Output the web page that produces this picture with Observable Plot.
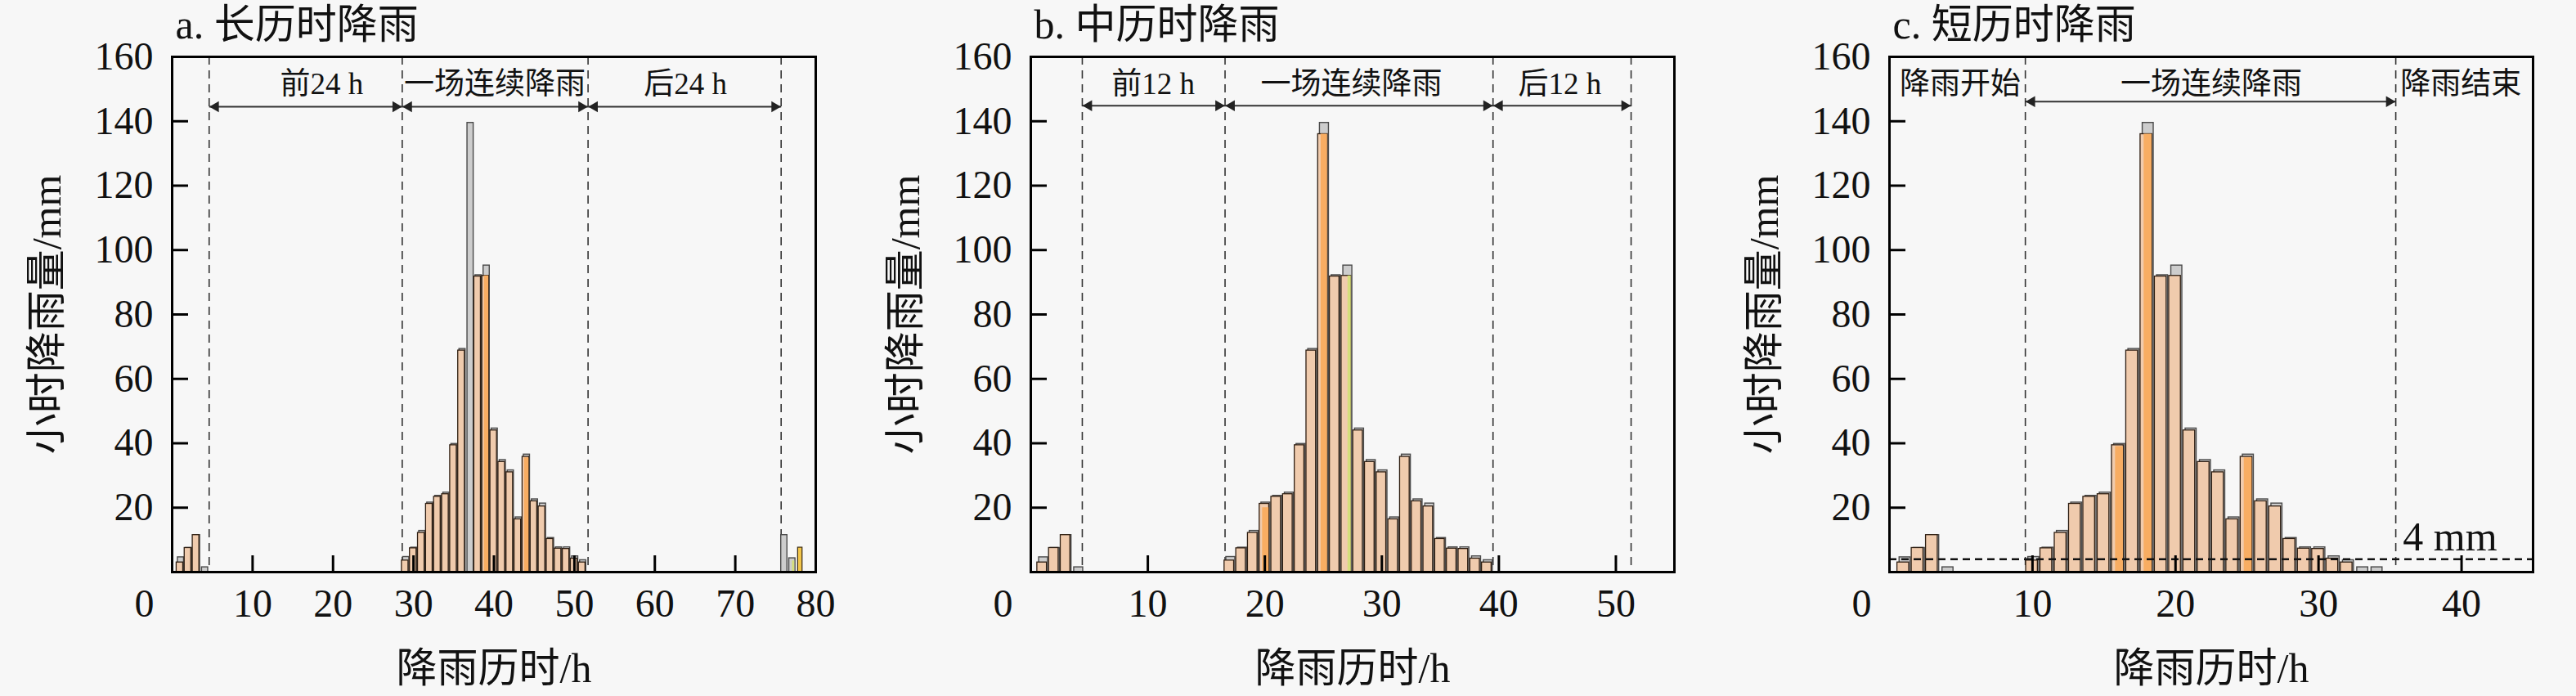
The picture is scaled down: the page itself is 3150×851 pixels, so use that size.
<!DOCTYPE html>
<html><head><meta charset="utf-8">
<script src="https://cdn.jsdelivr.net/npm/d3@7"></script>
<script src="https://cdn.jsdelivr.net/npm/@observablehq/plot@0.6"></script>
<style>
body{margin:0;background:#f7f7f7;}
#wrap{display:flex;width:3150px;height:851px;overflow:hidden;}
#wrap svg{flex:none;}
</style></head><body><div id="wrap"></div>
<script>
// ---- shared rainfall values (mm per hour) ----
const preHours = [1, 2, 3, 4];
const preGray  = [4.6, 7.5, 11.5, 1.5];
const prePeach = [3.0, 7.5, 11.5, 0];
const eventGray  = [4.7, 7.6, 12.8, 21.6, 23.7, 24.7, 39.8, 69.3, 139.5, 92.2, 95.2, 44.6, 34.8, 31.6, 17.0, 36.5, 22.6, 21.3, 10.6, 7.7, 7.7, 4.9, 3.7];
const eventPeach = [3.6, 7.4, 12.2, 21.2, 23.4, 24.2, 39.4, 68.8, 136.0, 91.8, 92.0, 44.0, 34.2, 31.0, 16.4, 35.8, 22.0, 20.4, 10.3, 7.3, 7.2, 4.2, 3.0];

// ---- panel descriptors ----
const titles = ["a. 长历时降雨", "b. 中历时降雨", "c. 短历时降雨"];
const xMax = [80, 55, 45];
const eventStartHour = [29, 17, 10];
const xTickLabelsA = [10, 20, 30, 40, 50, 60, 70, 80];
const xTickLabelsB = [10, 20, 30, 40, 50];
const xTickLabelsC = [10, 20, 30, 40];
const yTickLabels = [20, 40, 60, 80, 100, 120, 140, 160];
const yTickMarks = [20, 40, 60, 80, 100, 120, 140];

const dividersA = [4.6, 28.6, 51.7, 75.7];
const dividersB = [4.4, 16.6, 39.5, 51.3];
const dividersC = [9.5, 35.4];
const arrowLevel = [144.5, 144.8, 146.1];
const labelLevel = [151.4, 151.4, 151.4];
const labelsA = ["前24 h", "一场连续降雨", "后24 h"];
const labelXA = [18.6, 40.1, 63.8];
const labelsB = ["前12 h", "一场连续降雨", "后12 h"];
const labelXB = [10.45, 27.4, 45.2];
const labelsC = ["降雨开始", "一场连续降雨", "降雨结束"];
const labelXC = [4.94, 22.5, 39.95];

const orangeHoursA = [39, 44];      const orangeRainA = [92, 35.5];
const orangeHoursB = [25, 20];      const orangeRainB = [136, 20];
const orangeHoursC = [18, 16, 25];  const orangeRainC = [136, 39, 35.5];
const greenHoursA = [77];           const greenRainA = [3.5];
const greenHoursB = [27];           const greenRainB = [92];
const yellowHoursA = [78];          const yellowRainA = [7.6];
const postGrayHoursA = [76, 77];    const postGrayRainA = [11.5, 4.3];
const postGrayHoursC = [33, 34];    const postGrayRainC = [1.5, 1.5];
const hiddenPeachA = [37];

const thresholdC = [4];
const thresholdLabel = "4 mm";
const thresholdLabelX = [35.9];
const thresholdLabelY = [10.7];

const FONT = "'Liberation Serif', 'Noto Sans CJK SC', serif";
const zip = (h, v) => h.map((d, i) => ({h: d, v: v[i]}));

const W = 1050, H = 851, ML = 210, MR = 53, MT = 69, MB = 152;
const TICK = 20;

function panel(i, cfg) {
  const start = eventStartHour[i];
  const evHours = eventGray.map((_, k) => start + k);
  const grayRows = [...zip(preHours, preGray), ...zip(evHours, eventGray), ...zip(cfg.postGrayH || [], cfg.postGrayV || [])];
  const peachRows = [...zip(preHours, prePeach), ...zip(evHours, eventPeach)]
    .filter(d => d.v > 0 && !(cfg.hidden || []).includes(d.h));
  const orangeRows = zip(cfg.orangeH || [], cfg.orangeV || []);
  const greenRows = zip(cfg.greenH || [], cfg.greenV || []);
  const yellowRows = zip(cfg.yellowH || [], cfg.yellowV || []);
  const divs = cfg.dividers;
  const arrows = divs.slice(0, -1).map((s, k) => ({s, e: divs[k + 1]}));
  const labelRows = cfg.labels.map((t, k) => ({t, x: cfg.labelX[k]}));
  const xt = cfg.xTicks;
  const xMarks = xt.filter(d => d < xMax[i]);
  const fw = W - ML - MR, fh = H - MT - MB;

  const marks = [
    Plot.ruleX(divs, {stroke: "#333", strokeWidth: 1.6, strokeDasharray: "10,7"}),
    Plot.rect(grayRows, {x1: d => d.h - 0.3, x2: d => d.h + 0.47, y1: 0, y2: "v", fill: "#cdcdcd", stroke: "#4a4a4a", strokeWidth: 1.4}),
    Plot.rect(peachRows, {x1: d => d.h - 0.45, x2: d => d.h + 0.37, y1: 0, y2: "v", fill: "#f0cbad", stroke: "#2e1e12", strokeWidth: 1.3}),
    Plot.rect(orangeRows, {x1: d => d.h - 0.2, x2: d => d.h + 0.35, y1: 0, y2: "v", fill: "#f8ad62"}),
    Plot.rect(greenRows, {x1: d => d.h + 0.1, x2: d => d.h + 0.38, y1: 0, y2: "v", fill: "#d5de7c"}),
    Plot.rect(yellowRows, {x1: d => d.h - 0.2, x2: d => d.h + 0.35, y1: 0, y2: "v", fill: "#f3c64a", stroke: "#3a2a10", strokeWidth: 1.2}),
    Plot.link(arrows, {x1: "s", x2: "e", y1: arrowLevel[i], y2: arrowLevel[i], stroke: "#333", strokeWidth: 2}),
    Plot.dot(arrows, {x: "e", y: arrowLevel[i], symbol: "triangle", rotate: 90, r: 5, dx: -8, fill: "#222", stroke: "none"}),
    Plot.dot(arrows, {x: "s", y: arrowLevel[i], symbol: "triangle", rotate: -90, r: 5, dx: 8, fill: "#222", stroke: "none"}),
    Plot.text(labelRows, {x: "x", y: labelLevel[i], text: "t", fontSize: 37, fill: "#111", fontFamily: FONT}),
  ];
  if (cfg.threshold) {
    marks.push(Plot.ruleY(thresholdC, {stroke: "#111", strokeWidth: 2.5, strokeDasharray: "9,6"}));
    marks.push(Plot.text([thresholdLabel], {x: thresholdLabelX, y: thresholdLabelY, text: d => d, textAnchor: "start", fontSize: 50, fill: "#111", fontFamily: FONT}));
  }
  marks.push(
    // inward tick marks
    Plot.tickX(xMarks, {x: d => d, insetTop: fh - TICK, stroke: "#000", strokeWidth: 3}),
    Plot.tickY(yTickMarks, {y: d => d, insetRight: fw - TICK, stroke: "#000", strokeWidth: 3}),
    // tick labels
    Plot.axisY({ticks: yTickLabels, tickSize: 0, tickPadding: 23, fontSize: 48, label: null, fill: "#111"}),
    Plot.axisX({ticks: xt, tickSize: 0, tickPadding: 20, fontSize: 48, label: null, fill: "#111"}),
    Plot.axisX({ticks: [0], tickSize: 0, tickPadding: 20, fontSize: 48, dx: -34, label: null, fill: "#111"}),
    // titles
    Plot.text([titles[i]], {frameAnchor: "top-left", dy: -39, dx: 4, textAnchor: "start", lineAnchor: "middle", fontSize: 50, fill: "#111", fontFamily: FONT}),
    Plot.text(["降雨历时/h"], {frameAnchor: "bottom", dy: 118, textAnchor: "middle", lineAnchor: "middle", fontSize: 50, fill: "#111", fontFamily: FONT}),
    Plot.text(["小时降雨量/mm"], {frameAnchor: "left", dx: -153, rotate: -90, textAnchor: "middle", lineAnchor: "middle", fontSize: 50, fill: "#111", fontFamily: FONT}),
    Plot.frame({stroke: "#000", strokeWidth: 3})
  );

  return Plot.plot({
    width: W, height: H,
    marginLeft: ML, marginRight: MR, marginTop: MT, marginBottom: MB,
    x: {domain: [0, xMax[i]]},
    y: {domain: [0, 160]},
    style: {fontFamily: FONT, background: "transparent", overflow: "visible", color: "#111"},
    marks
  });
}

const wrap = document.getElementById("wrap");
wrap.appendChild(panel(0, {
  dividers: dividersA, labels: labelsA, labelX: labelXA, xTicks: xTickLabelsA,
  orangeH: orangeHoursA, orangeV: orangeRainA, greenH: greenHoursA, greenV: greenRainA,
  yellowH: yellowHoursA, yellowV: yellowRainA, postGrayH: postGrayHoursA, postGrayV: postGrayRainA,
  hidden: hiddenPeachA
}));
wrap.appendChild(panel(1, {
  dividers: dividersB, labels: labelsB, labelX: labelXB, xTicks: xTickLabelsB,
  orangeH: orangeHoursB, orangeV: orangeRainB, greenH: greenHoursB, greenV: greenRainB
}));
wrap.appendChild(panel(2, {
  dividers: dividersC, labels: labelsC, labelX: labelXC, xTicks: xTickLabelsC,
  orangeH: orangeHoursC, orangeV: orangeRainC, postGrayH: postGrayHoursC, postGrayV: postGrayRainC,
  threshold: true
}));
</script></body></html>
